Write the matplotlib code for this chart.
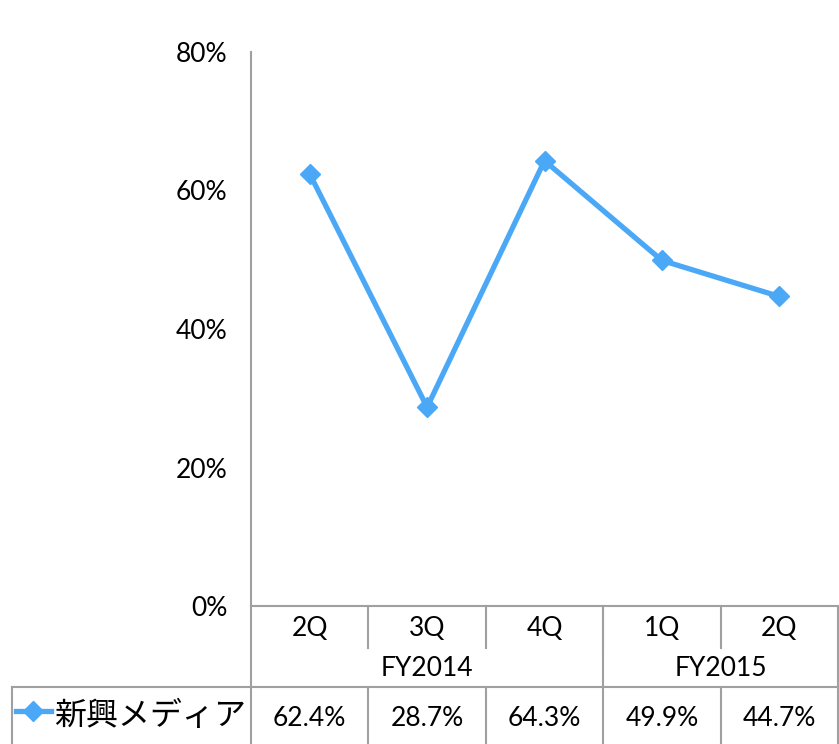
import matplotlib
matplotlib.use("Agg")
import matplotlib.pyplot as plt
from matplotlib.lines import Line2D

plt.rcParams['font.family'] = ['Lato', 'Noto Sans CJK JP', 'DejaVu Sans']

quarters = ["2Q", "3Q", "4Q", "1Q", "2Q"]
years = ["FY2014", "FY2015"]
year_spans = [3, 2]
series_name = "新興メディア"
values = [62.4, 28.7, 64.3, 49.9, 44.7]
yticks = [0, 20, 40, 60, 80]

W, H = 839, 744
fig = plt.figure(figsize=(W / 100, H / 100), dpi=100)
L, R, T, B = 251, 838, 52, 606
ax = fig.add_axes([L / W, 1 - B / H, (R - L) / W, (B - T) / H])

fs = 19
color = "#4aa8f7"
x = list(range(len(values)))
ax.plot(x, values, color=color, lw=3.8, marker="D", ms=10, mec=color, mfc=color, clip_on=False)
ax.set_xlim(-0.5, len(values) - 0.5)
ax.set_ylim(0, 80)
ax.set_yticks(yticks)
ax.set_yticklabels([f"{v}%" for v in yticks], fontsize=fs)
ax.tick_params(axis="y", length=0, pad=17)
ax.set_xticks([])
for s in ["top", "right", "bottom"]:
    ax.spines[s].set_visible(False)
ax.spines["left"].set_color("#a0a0a0")
ax.spines["left"].set_linewidth(1.5)

gc = "#a0a0a0"
def px(xp): return xp / W
def py(yp): return 1 - yp / H
def hline(x0, x1, y):
    fig.add_artist(Line2D([px(x0), px(x1)], [py(y), py(y)], color=gc, lw=1.5))
def vline(xx, y0, y1):
    fig.add_artist(Line2D([px(xx), px(xx)], [py(y0), py(y1)], color=gc, lw=1.5))

n = len(values)
cw = (R - L) / n
cols = [L + i * cw for i in range(n + 1)]
y0, y1, y2, y3 = 606, 648, 687, 744

hline(L, R, y0)
hline(12, R, y2)
vline(L, y0, y3)
vline(R, y0, y3)
vline(12, y2, y3)
for i in range(1, n):
    vline(cols[i], y0, y1)
    vline(cols[i], y2, y3)
acc = 0
for sp in year_spans[:-1]:
    acc += sp
    vline(cols[acc], y0, y2)

for i, q in enumerate(quarters):
    fig.text(px((cols[i] + cols[i + 1]) / 2), py((y0 + y1) / 2 + 2), q,
             ha="center", va="center", fontsize=fs)
acc = 0
for yr, sp in zip(years, year_spans):
    c = (cols[acc] + cols[acc + sp]) / 2
    fig.text(px(c), py((y1 + y2) / 2 + 1), yr, ha="center", va="center", fontsize=fs)
    acc += sp
for i, v in enumerate(values):
    fig.text(px((cols[i] + cols[i + 1]) / 2), py((y2 + y3) / 2 + 3), f"{v:.1f}%",
             ha="center", va="center", fontsize=fs)

fig.add_artist(Line2D([px(16), px(33), px(51)], [py(711)] * 3, color=color, lw=3.8,
                      marker="D", markevery=[1], ms=10, mec=color, mfc=color))
fig.text(px(54), py(716), series_name, ha="left", va="center", fontsize=23)

fig.savefig("out.png", dpi=100)
